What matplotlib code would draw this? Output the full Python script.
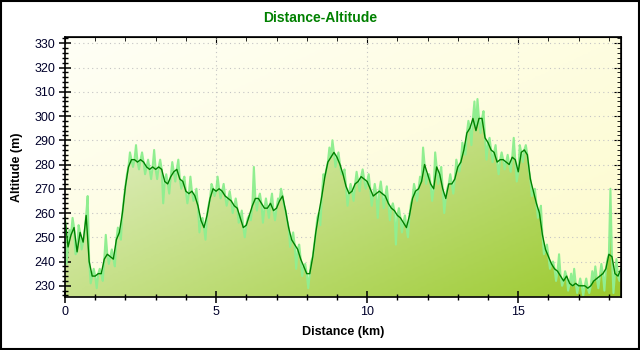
import numpy as np
import matplotlib
matplotlib.use("Agg")
import matplotlib.pyplot as plt
from matplotlib.ticker import MultipleLocator
from matplotlib.colors import LinearSegmentedColormap
from matplotlib.patches import Rectangle

plt.rcParams["font.family"] = ["Liberation Sans", "DejaVu Sans"]

STEP_KM = 0.1

# smoothed track altitude (m), one sample every STEP_KM starting at 0 km
altitude = [
    258, 246, 251, 254, 244, 252, 248, 259, 240, 234,
    234, 235, 235, 241, 243, 242, 241, 249, 252, 260,
    271, 279, 282, 282, 281, 282, 281, 279, 278, 279,
    278, 279, 278, 273, 272, 275, 277, 278, 274, 273,
    269, 268, 269, 267, 263, 257, 254, 259, 266, 270,
    269, 270, 269, 267, 266, 265, 263, 262, 258, 254,
    255, 259, 263, 266, 266, 264, 262, 262, 264, 261,
    262, 265, 267, 261, 254, 249, 247, 245, 241, 238,
    235, 235, 242, 252, 260, 267, 275, 281, 283, 285,
    283, 280, 276, 271, 268, 269, 272, 273, 275, 274,
    273, 270, 267, 268, 269, 268, 267, 264, 262, 261,
    259, 258, 256, 254, 259, 266, 269, 270, 273, 280,
    276, 272, 270, 279, 276, 270, 266, 272, 272, 274,
    279, 281, 286, 293, 295, 299, 294, 299, 299, 291,
    289, 286, 285, 281, 282, 282, 281, 280, 283, 282,
    277, 285, 286, 284, 274, 269, 264, 260, 251, 245,
    242, 239, 237, 236, 234, 232, 234, 231, 230, 231,
    230, 230, 230, 229, 230, 232, 233, 234, 235, 237,
    243, 242, 235, 234, 237,
]

# raw GPS altitude (m), sampled halfway between the smoothed points
altitude_raw = [
    239, 253, 258, 243, 255, 245, 252, 267, 231, 237,
    229, 237, 232, 251, 239, 245, 238, 254, 249, 266,
    276, 285, 279, 288, 278, 285, 276, 282, 274, 286,
    274, 282, 264, 276, 268, 281, 273, 282, 270, 275,
    264, 275, 265, 270, 252, 258, 249, 263, 272, 267,
    275, 266, 272, 263, 269, 260, 266, 256, 261, 250,
    258, 257, 279, 261, 268, 256, 266, 258, 268, 257,
    266, 270, 263, 257, 246, 252, 237, 247, 234, 239,
    229, 240, 247, 258, 255, 276, 278, 287, 290, 279,
    285, 276, 278, 263, 272, 265, 277, 269, 278, 270,
    276, 263, 272, 258, 273, 262, 271, 257, 264, 247,
    262, 252, 259, 250, 264, 272, 265, 275, 287, 272,
    276, 265, 285, 272, 279, 260, 270, 276, 268, 282,
    277, 289, 284, 298, 288, 306, 307, 293, 302, 282,
    291, 281, 288, 276, 285, 278, 284, 277, 291, 273,
    288, 281, 288, 278, 267, 270, 258, 263, 243, 247,
    237, 240, 232, 243, 230, 236, 228, 235, 237, 227,
    233, 226, 233, 227, 236, 238, 229, 239, 228, 241,
    270, 227, 241, 232,
]

X_MAX = 18.4
Y_MIN, Y_MAX = 225.5, 332.7

dist = np.arange(len(altitude)) * STEP_KM
dist_raw = dist[:-1] + STEP_KM / 2

# interleave both sample sets to get the full raw profile
x_all = np.empty(len(dist) + len(dist_raw))
y_all = np.empty_like(x_all)
x_all[0::2] = dist
x_all[1::2] = dist_raw
y_all[0::2] = altitude
y_all[1::2] = altitude_raw

fig = plt.figure(figsize=(6.4, 3.5), dpi=100, facecolor="white")
ax = fig.add_axes([65 / 640, 1 - 296.7 / 350, 556 / 640, 260 / 350])
ax.set_xlim(0, X_MAX)
ax.set_ylim(Y_MIN, Y_MAX)

# plot background: pale yellow, lighter towards the top-left corner
gx, gy = np.meshgrid(np.linspace(0, 1, 200), np.linspace(1, 0, 120))
t = (gx + (1 - gy)) / 2
bg_cmap = LinearSegmentedColormap.from_list("bg", ["#fffff6", "#fdfbcb"])
ax.imshow(t, cmap=bg_cmap, extent=(0, X_MAX, Y_MIN, Y_MAX), aspect="auto",
          origin="upper", zorder=0, vmin=0, vmax=1)

# dotted grid
for yv in range(230, 331, 10):
    ax.axhline(yv, color="#c4c4c4", linestyle=(0, (1, 3)), linewidth=0.8, zorder=0.5)
for xv in (5, 10, 15):
    ax.axvline(xv, color="#c4c4c4", linestyle=(0, (1, 3)), linewidth=0.8, zorder=0.5)

# filled profile with diagonal green gradient
poly = ax.fill_between(x_all, y_all, Y_MIN, facecolor="none", edgecolor="none")
fill_cmap = LinearSegmentedColormap.from_list("fill", ["#f3f8e8", "#9bca2e"])
fill_img = ax.imshow(t, cmap=fill_cmap, extent=(0, X_MAX, Y_MIN, Y_MAX), aspect="auto",
                     origin="upper", zorder=1, vmin=0, vmax=1)
fill_img.set_clip_path(poly.get_paths()[0], transform=ax.transData)

ax.plot(x_all, y_all, color="#90ee90", linewidth=1.5, zorder=2)
ax.plot(dist, altitude, color="#008000", linewidth=1.0, zorder=3)

# axes and ticks
for s in ax.spines.values():
    s.set_linewidth(1.2)
    s.set_zorder(5)
ax.xaxis.set_major_locator(MultipleLocator(5))
ax.xaxis.set_minor_locator(MultipleLocator(1))
ax.yaxis.set_major_locator(MultipleLocator(10))
ax.yaxis.set_minor_locator(MultipleLocator(2))
ax.tick_params(which="major", direction="inout", length=8, width=1.1,
               labelsize=9, labelcolor="#00002a", pad=3)
ax.tick_params(which="minor", direction="inout", length=5, width=1)
ax.set_yticks(range(230, 331, 10))

top = ax.secondary_xaxis("top")
top.xaxis.set_major_locator(MultipleLocator(5))
top.xaxis.set_minor_locator(MultipleLocator(1))
top.tick_params(which="major", direction="in", length=5, labeltop=False)
top.tick_params(which="minor", direction="in", length=3)
right = ax.secondary_yaxis("right")
right.yaxis.set_major_locator(MultipleLocator(10))
right.yaxis.set_minor_locator(MultipleLocator(2))
right.tick_params(which="major", direction="in", length=5, labelright=False)
right.tick_params(which="minor", direction="in", length=3)

fig.text(0.5, 1 - 18 / 350, "Distance-Altitude", ha="center", va="center",
         color="#008000", fontsize=10, fontweight="bold")
fig.text(343 / 640, 1 - 332 / 350, "Distance (km)", ha="center", va="center",
         fontsize=9, fontweight="bold")
fig.text(17 / 640, 1 - 167 / 350, "Altitude (m)", ha="center", va="center",
         rotation=90, fontsize=9, fontweight="bold")

# outer frame
fig.patches.append(Rectangle((0.001, 0.002), 0.997, 0.995, transform=fig.transFigure,
                             fill=False, edgecolor="black", linewidth=1.5))

fig.savefig("out.png", dpi=100)
